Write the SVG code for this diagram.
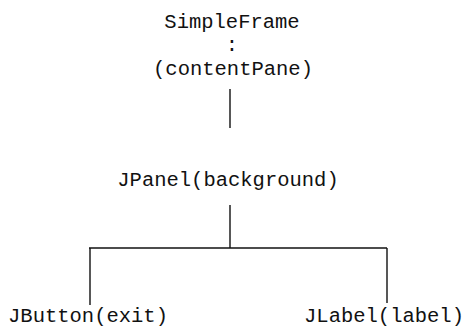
<svg xmlns="http://www.w3.org/2000/svg" width="467" height="329" viewBox="0 0 467 329">
<style>
text{font-family:"Liberation Mono","Courier New",monospace;font-size:20.5px;fill:#111;text-anchor:middle}
.c line{stroke:#111;stroke-width:1.4;fill:none}
</style>
<rect width="467" height="329" fill="#fff"/>
<g class="c" id="connectors">
<line x1="230" y1="89" x2="230" y2="128"/>
<line x1="230" y1="205" x2="230" y2="248"/>
<line x1="89" y1="248" x2="387" y2="248"/>
<line x1="90" y1="248" x2="90" y2="305"/>
<line x1="387" y1="248" x2="387" y2="303"/>
</g>
<g id="simpleframe">
<text x="232" y="28">SimpleFrame</text>
<text x="232" y="51">:</text>
<text x="233" y="75">(contentPane)</text>
</g>
<g id="jpanel"><text x="228" y="186">JPanel(background)</text></g>
<g id="jbutton"><text x="88" y="322">JButton(exit)</text></g>
<g id="jlabel"><text x="384" y="322">JLabel(label)</text></g>
</svg>
